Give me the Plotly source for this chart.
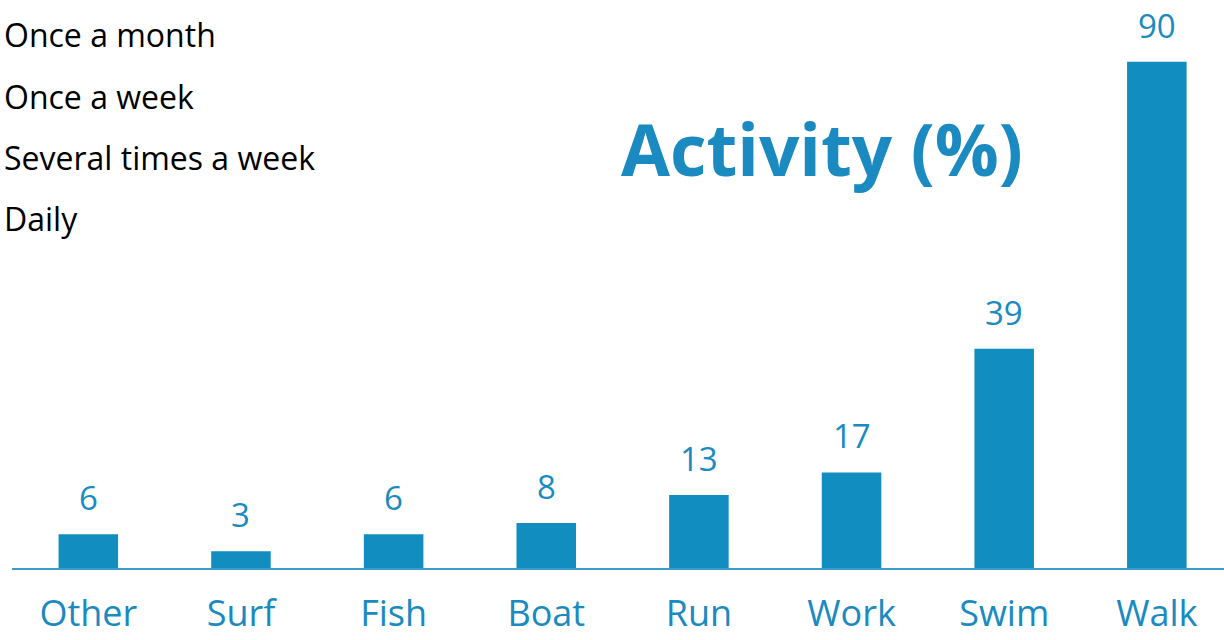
import plotly.graph_objects as go

categories = ["Other", "Surf", "Fish", "Boat", "Run", "Work", "Swim", "Walk"]
values = [6, 3, 6, 8, 13, 17, 39, 90]
legend_items = ["Once a month", "Once a week", "Several times a week", "Daily"]
title_text = "Activity (%)"

BLUE = "#128dc0"
TXT = "#1a8ac0"

fig = go.Figure()
fig.add_trace(go.Bar(
    x=categories, y=values,
    marker=dict(color=BLUE, line=dict(width=0)),
    width=0.39,
    showlegend=False,
))

for c, v in zip(categories, values):
    fig.add_annotation(x=c, y=v, text=str(v), showarrow=False,
                       yanchor="bottom", yshift=12,
                       font=dict(family="Open Sans", size=33, color=TXT))

for i, t in enumerate(legend_items):
    fig.add_annotation(xref="paper", yref="paper", x=-10 / 1212, y=1 - (35 + 61 * i) / 568,
                       text=t, showarrow=False, xanchor="left", yanchor="middle",
                       font=dict(family="Open Sans", size=32, color="#000000"))

fig.add_annotation(xref="paper", yref="paper", x=(822 - 12) / 1212, y=1 - 148 / 568,
                   text="<b>" + title_text + "</b>", showarrow=False,
                   xanchor="center", yanchor="middle",
                   font=dict(family="Open Sans", size=71, color=TXT))

fig.update_layout(
    width=1224, height=640,
    margin=dict(l=12, r=0, t=0, b=72, autoexpand=False),
    paper_bgcolor="white", plot_bgcolor="white",
    xaxis=dict(range=[-0.5, 7.44], showline=True, linecolor="#3a9ccc", linewidth=1.5,
               ticks="outside", ticklen=13, tickcolor="rgba(0,0,0,0)",
               tickfont=dict(family="Open Sans", size=36, color=TXT),
               showgrid=False, zeroline=False, automargin=False),
    yaxis=dict(range=[0, 101], visible=False, showgrid=False, zeroline=False,
               automargin=False),
)

fig.write_html("out.html", config={"displayModeBar": False},
               post_script="document.body.style.margin='0';")
